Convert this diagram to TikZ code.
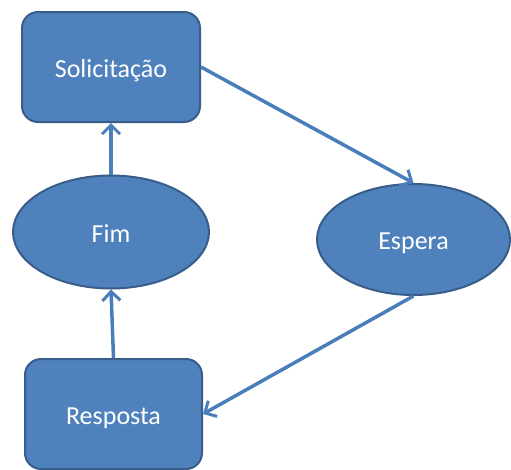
\documentclass[tikz,border=0pt]{standalone}
\usepackage{fontspec}
\setmainfont{Carlito}
\usetikzlibrary{shapes.geometric,arrows.meta}
\definecolor{boxfill}{HTML}{4F81BD}
\definecolor{boxline}{HTML}{385D8A}
\definecolor{flow}{HTML}{4A7EBB}
\begin{document}
\begin{tikzpicture}[x=1pt,y=-1pt,
  every node/.style={text=white,font=\fontsize{26}{31}\selectfont,inner sep=0pt,text height=20pt,text depth=0pt},
  state/.style={draw=boxline,fill=boxfill,line width=2pt,rounded corners=16pt,minimum width=178pt,minimum height=110pt},
  oval/.style={ellipse,draw=boxline,fill=boxfill,line width=2pt},
  flowline/.style={draw=flow,line width=3.5pt,-{Straight Barb[length=9pt,width=18pt,line width=3pt]}}]
  \useasboundingbox (0,0) rectangle (511,469);
  \node[state] (sol) at (111,67) {Solicitação};
  \node[oval,minimum width=196pt,minimum height=113pt] (fim) at (111,232) {Fim};
  \node[oval,minimum width=193pt,minimum height=111pt] (esp) at (413.5,239.5) {Espera};
  \node[state,minimum width=177pt] (res) at (113.5,414) {Resposta};
  \draw[flowline] (sol.east) -- (esp.north);
  \draw[flowline] (esp.south) -- (res.east);
  \draw[flowline] (res.north) -- (fim.south);
  \draw[flowline] (fim.north) -- (sol.south);
\end{tikzpicture}
\end{document}
